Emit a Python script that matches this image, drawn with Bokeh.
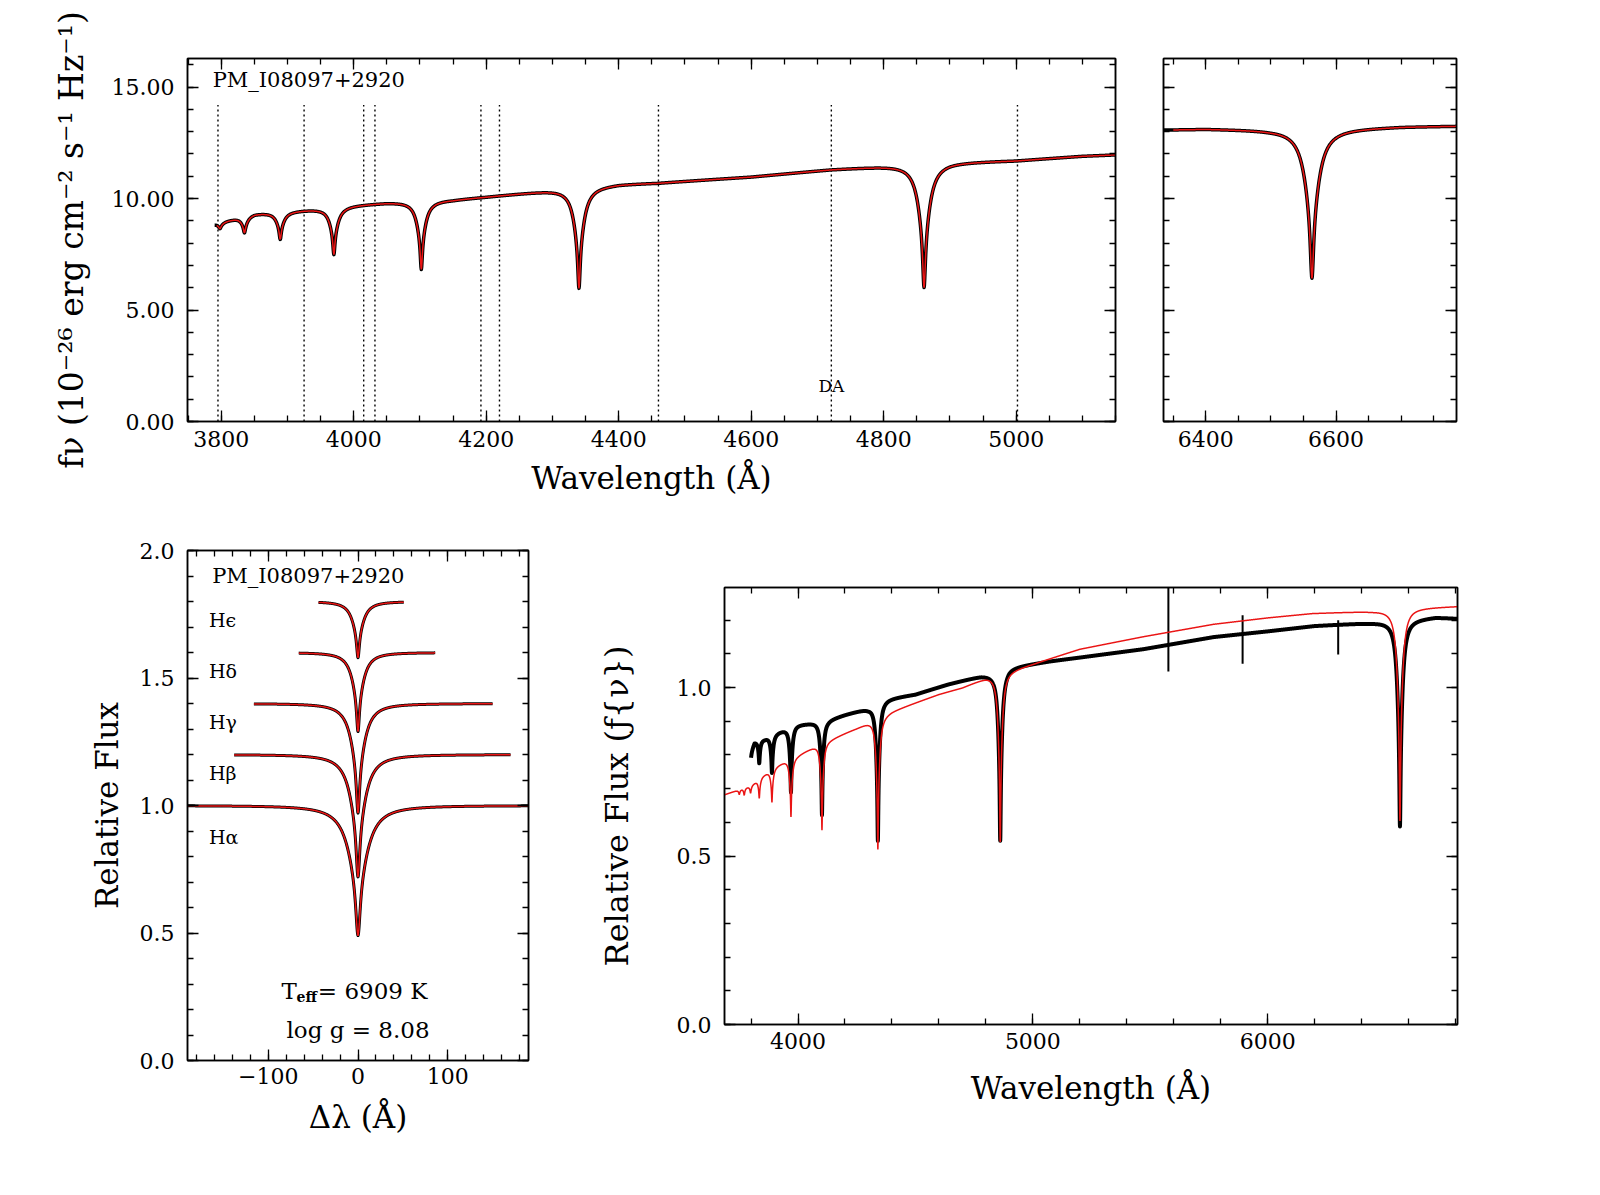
import numpy as np
from bokeh.plotting import figure
from bokeh.layouts import row, column
from bokeh.models import (LinearAxis, FixedTicker, Range1d, NumeralTickFormatter,
                          CustomJSTickFormatter)
from bokeh.core.properties import value
from bokeh.embed import file_html
from bokeh.resources import INLINE

FONT = "DejaVu Serif"
RED = "#ea1414"
STAR = "PM_I08097+2920"

# ---- Balmer line parameters ----
LINE_NAMES = ["Hα", "Hβ", "Hγ", "Hδ", "Hϵ", "H8", "H9", "H10", "H11", "H12"]
LINE_CENTERS = [6563, 4861, 4340, 4102, 3970, 3889, 3835, 3798, 3771, 3750]
LINE_DEPTHS = [0.51, 0.48, 0.43, 0.31, 0.22, 0.13, 0.08, 0.03, 0.03, 0.02]
CORE_WIDTHS = [3.0, 2.4, 2.1, 1.8, 1.8, 1.8, 1.8, 1.8, 1.8, 1.8]
WING_WIDTHS = [13.0, 10.4, 9.1, 7.8, 7.5, 7.0, 6.0, 5.0, 5.0, 5.0]
CORE_FRACTION = 0.46

# ---- top-left: f_nu continuum (10^-26 erg cm^-2 s^-1 Hz^-1) ----
FNU_WAVE = [3790, 3850, 3900, 3950, 4000, 4050, 4150, 4200, 4300, 4400, 4460,
            4600, 4720, 4800, 4900, 5000, 5100, 5150]
FNU_CONT = [8.88, 9.33, 9.43, 9.55, 9.70, 9.82, 9.95, 10.08, 10.37, 10.64, 10.70,
            10.97, 11.30, 11.45, 11.62, 11.70, 11.90, 11.96]
FNU_OBS_RANGE = [3790, 5150]
FNU_MOD_RANGE = [3793, 5150]
DOTTED_WAVES = [3795, 3925, 4015, 4032, 4192, 4220, 4460, 4721, 5002]
DOTTED_TOP = 14.2
DA_LABEL = ["DA"]
DA_POS = [4721, 1.6]

# ---- top-right: H-alpha region ----
HA_WAVE = [6335, 6400, 6500, 6600, 6700, 6785]
HA_CONT = [13.08, 13.12, 13.08, 13.12, 13.22, 13.25]
HA_OBS_RANGE = [6335, 6785]
HA_MOD_RANGE = [6350, 6785]

# ---- bottom-left: normalised line profiles ----
PROFILE_LINES = ["Hα", "Hβ", "Hγ", "Hδ", "Hϵ"]
PROFILE_OFFSETS = [1.0, 1.2, 1.4, 1.6, 1.8]
PROFILE_LEFT = [-190, -138, -116, -66, -44]
PROFILE_RIGHT = [190, 170, 150, 86, 51]
PROFILE_LABEL_Y = [0.876, 1.128, 1.328, 1.528, 1.728]
TEFF = "6909 K"
LOGG = "8.08"

# ---- bottom-right: relative flux ----
REL_MOD_WAVE = [3687, 3800, 3850, 3900, 3950, 4000, 4080, 4150, 4250, 4320, 4400,
                4500, 4600, 4700, 4800, 4900, 5000, 5200, 5470, 5770, 6000, 6190,
                6450, 6615, 6808]
REL_MOD_CONT = [0.682, 0.71, 0.74, 0.765, 0.785, 0.80, 0.83, 0.85, 0.88, 0.905, 0.93,
                0.955, 0.98, 1.00, 1.03, 1.05, 1.07, 1.114, 1.151, 1.188, 1.207, 1.22,
                1.227, 1.236, 1.241]
REL_OBS_WAVE = [3800, 3815, 3860, 3920, 3990, 4050, 4130, 4200, 4300, 4360, 4500,
                4640, 4780, 4830, 4900, 5070, 5207, 5470, 5770, 6000, 6200, 6450,
                6715, 6808]
REL_OBS_CONT = [0.81, 0.84, 0.85, 0.87, 0.89, 0.895, 0.905, 0.92, 0.94, 0.965, 0.98,
                1.01, 1.035, 1.04, 1.06, 1.078, 1.09, 1.114, 1.15, 1.167, 1.183, 1.193,
                1.209, 1.205]
SKY_WAVE = [5577, 5893, 6300]
SKY_LOW = [1.048, 1.071, 1.098]
SKY_HIGH = [1.30, 1.215, 1.20]


def line_profile(dl, i):
    d = LINE_DEPTHS[i]
    return 1 - d * (CORE_FRACTION / (1 + (dl / CORE_WIDTHS[i]) ** 2)
                    + (1 - CORE_FRACTION) / (1 + (dl / WING_WIDTHS[i]) ** 2))


def spectrum(wave, anchor_w, anchor_f):
    flux = np.interp(wave, anchor_w, anchor_f)
    for i, c in enumerate(LINE_CENTERS):
        flux = flux * line_profile(wave - c, i)
    return flux


def grid(lo, hi, step=0.5):
    return np.arange(lo, hi + step / 2, step)


def make_fig(width, height, bl, br, bt, bb, xr, yr):
    p = figure(width=width, height=height, x_range=Range1d(*xr), y_range=Range1d(*yr),
               output_backend="svg", toolbar_location=None,
               min_border_left=bl, min_border_right=br,
               min_border_top=bt, min_border_bottom=bb)
    p.grid.visible = False
    p.outline_line_color = "black"
    p.outline_line_width = 1.5
    p.background_fill_color = "white"
    p.border_fill_color = "white"
    return p


def blank():
    return CustomJSTickFormatter(code="return ''")


def style_axes(p, xt, xmin, yt, ymin, xlab=True, ylab=True, xfmt=None, yfmt=None,
               xover=None, tick_size="22px"):
    p.add_layout(LinearAxis(), "above")
    p.add_layout(LinearAxis(), "right")
    xtk = FixedTicker(ticks=xt, minor_ticks=xmin)
    ytk = FixedTicker(ticks=yt, minor_ticks=ymin)
    for ax in p.xaxis:
        ax.ticker = xtk
    for ax in p.yaxis:
        ax.ticker = ytk
    for ax in p.axis:
        ax.major_tick_in = 11
        ax.major_tick_out = 0
        ax.minor_tick_in = 6
        ax.minor_tick_out = 0
        ax.axis_line_width = 1.5
        ax.axis_line_color = "black"
        ax.major_tick_line_width = 1.3
        ax.minor_tick_line_width = 1.3
        ax.major_tick_line_color = "black"
        ax.minor_tick_line_color = "black"
        ax.major_label_text_font = FONT
        ax.major_label_text_font_size = tick_size
        ax.major_label_text_color = "black"
        ax.axis_label_text_font = FONT
        ax.axis_label_text_font_style = "normal"
        ax.axis_label_text_font_size = "31px"
        ax.axis_label_text_color = "black"
    for ax in list(p.above) + list(p.right):
        ax.formatter = blank()
        ax.major_label_standoff = 0
    bottom = p.below[0]
    left = p.left[0]
    if not xlab:
        bottom.formatter = blank()
    if not ylab:
        left.formatter = blank()
    if xfmt:
        bottom.formatter = NumeralTickFormatter(format=xfmt)
    if yfmt:
        left.formatter = NumeralTickFormatter(format=yfmt)
    if xover:
        bottom.major_label_overrides = xover
    bottom.major_label_standoff = 9
    left.major_label_standoff = 13
    return bottom, left


# ================= top-left =================
A = make_fig(1138, 508, 187, 23, 58, 87, (3749, 5150), (0, 16.28))
bA, lA = style_axes(A, list(range(3800, 5001, 200)), list(range(3750, 5151, 50)),
                    [0, 5, 10, 15], list(range(0, 17)), yfmt="0.00")
bA.axis_label = "Wavelength (Å)"
bA.axis_label_standoff = 10
lA.axis_label = "fν (10⁻²⁶ erg cm⁻² s⁻¹ Hz⁻¹)"
lA.axis_label_text_font_size = "33px"
lA.axis_label_standoff = 18

nd = len(DOTTED_WAVES)
A.segment(x0=DOTTED_WAVES, y0=[0] * nd, x1=DOTTED_WAVES, y1=[DOTTED_TOP] * nd,
          line_color="black", line_width=1.4, line_dash="2 3")
w = grid(*FNU_OBS_RANGE)
A.line(w, spectrum(w, FNU_WAVE, FNU_CONT), line_color="black", line_width=3.5,
       line_join="round")
w = grid(*FNU_MOD_RANGE)
A.line(w, spectrum(w, FNU_WAVE, FNU_CONT), line_color=RED, line_width=1.5)
A.text(x=[3787], y=[15.3], text=[STAR], text_font=value(FONT), text_font_size="21px",
       text_align="left", text_baseline="middle", text_color="black")
A.text(x=[DA_POS[0]], y=[DA_POS[1]], text=DA_LABEL, text_font=value(FONT),
       text_font_size="17px", text_align="center", text_baseline="middle",
       text_color="black")

# ================= top-right =================
B = make_fig(338, 508, 25, 20, 58, 87, (6335, 6785), (0, 16.28))
bB, lB = style_axes(B, [6400, 6600], list(range(6350, 6751, 50)),
                    [0, 5, 10, 15], list(range(0, 17)), ylab=False)
w = grid(*HA_OBS_RANGE)
B.line(w, spectrum(w, HA_WAVE, HA_CONT), line_color="black", line_width=3.5,
       line_join="round")
w = grid(*HA_MOD_RANGE)
B.line(w, spectrum(w, HA_WAVE, HA_CONT), line_color=RED, line_width=1.5)

# ================= bottom-left =================
C = make_fig(568, 632, 187, 40, 42, 80, (-190, 190), (0, 2.0))
bC, lC = style_axes(C, [-100, 0, 100], list(range(-180, 181, 20)),
                    [0, 0.5, 1.0, 1.5, 2.0], [round(0.1 * k, 1) for k in range(21)],
                    yfmt="0.0", xover={-100: "−100", 0: "0", 100: "100"})
bC.major_label_standoff = 7
bC.axis_label = "Δλ (Å)"
bC.axis_label_standoff = 12
lC.axis_label = "Relative Flux"
lC.axis_label_standoff = 12

for name, off, lo, hi in zip(PROFILE_LINES, PROFILE_OFFSETS, PROFILE_LEFT, PROFILE_RIGHT):
    i = LINE_NAMES.index(name)
    dl = grid(lo, hi, 0.25)
    prof = line_profile(dl, i) + (off - 1.0)
    C.line(dl, prof, line_color="black", line_width=3.0, line_join="round")
    C.line(dl, prof, line_color=RED, line_width=1.5)

C.text(x=[-166] * len(PROFILE_LINES), y=PROFILE_LABEL_Y, text=PROFILE_LINES,
       text_font=value(FONT), text_font_size="19px", text_align="left",
       text_baseline="middle", text_color="black")
C.text(x=[-162.5], y=[1.9], text=[STAR], text_font=value(FONT), text_font_size="21px",
       text_align="left", text_baseline="middle", text_color="black")
C.text(x=[-85.2], y=[0.274], text=["T"], text_font=value(FONT), text_font_size="23px",
       text_align="left", text_baseline="alphabetic", text_color="black")
C.text(x=[-68.5], y=[0.249], text=["eff"], text_font=value(FONT), text_font_size="14px",
       text_font_style="bold", text_align="left", text_baseline="alphabetic",
       text_color="black")
C.text(x=[-44.8], y=[0.274], text=["= " + TEFF], text_font=value(FONT),
       text_font_size="23px", text_align="left", text_baseline="alphabetic",
       text_color="black")
C.text(x=[0], y=[0.118], text=["log g = " + LOGG], text_font=value(FONT),
       text_font_size="23px", text_align="center", text_baseline="alphabetic",
       text_color="black")

# ================= bottom-right =================
D = make_fig(909, 632, 156, 20, 79, 116, (3687, 6808), (0, 1.297))
bD, lD = style_axes(D, [4000, 5000, 6000], list(range(3800, 6801, 200)),
                    [0, 0.5, 1.0], [round(0.1 * k, 1) for k in range(13)],
                    yfmt="0.0")
bD.major_label_standoff = 8
bD.axis_label = "Wavelength (Å)"
bD.axis_label_standoff = 18
lD.axis_label = "Relative Flux (ƒ{ν})"
lD.axis_label_text_font_size = "32px"
lD.axis_label_standoff = 38

w = grid(REL_OBS_WAVE[0], REL_OBS_WAVE[-1])
D.line(w, spectrum(w, REL_OBS_WAVE, REL_OBS_CONT), line_color="black", line_width=4,
       line_join="round")
D.segment(x0=SKY_WAVE, y0=SKY_LOW, x1=SKY_WAVE, y1=SKY_HIGH, line_color="black",
          line_width=2)
w = grid(REL_MOD_WAVE[0], REL_MOD_WAVE[-1])
D.line(w, spectrum(w, REL_MOD_WAVE, REL_MOD_CONT), line_color=RED, line_width=1.5)

layout = column(row(column(A), column(B)), row(column(C), column(D)))
open("out.html", "w").write(file_html(layout, INLINE))
